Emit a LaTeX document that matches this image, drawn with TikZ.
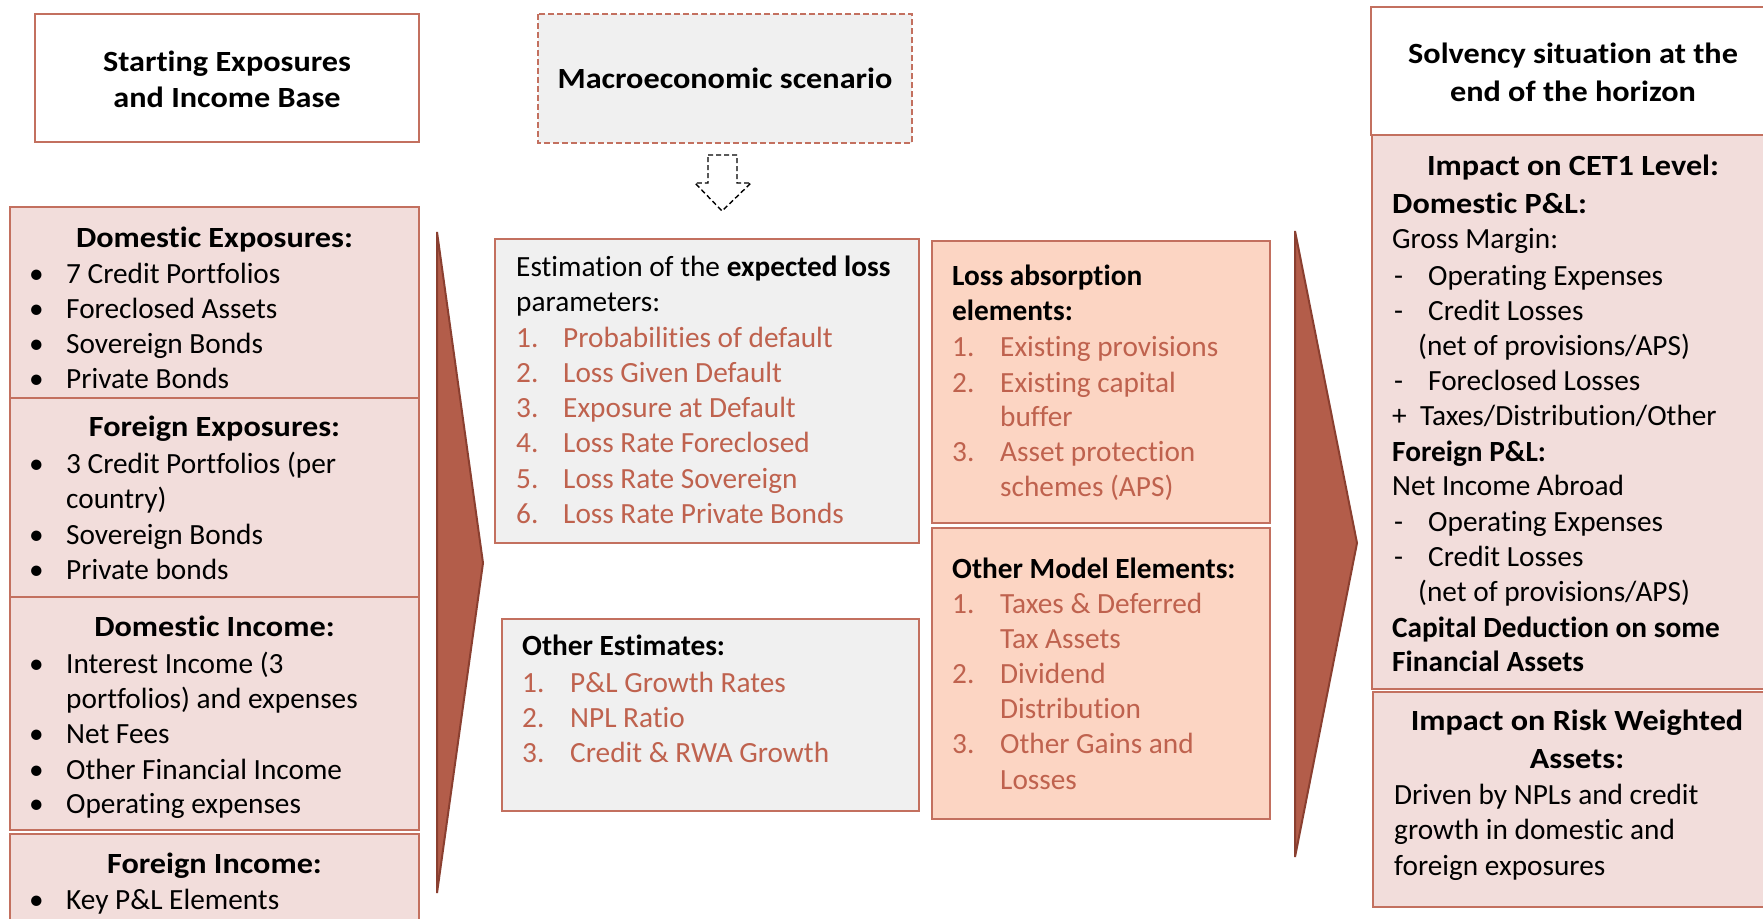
\documentclass[tikz,border=0pt]{standalone}
\usepackage{fontspec}
\setmainfont{Carlito}[Ligatures={TeX,NoCommon}]
\newfontfamily\widefont{Carlito}[FakeStretch=1.10,Ligatures={TeX,NoCommon}]
\definecolor{bord}{HTML}{C3705F}
\definecolor{pinkf}{HTML}{F2DDDB}
\definecolor{peach}{HTML}{FCD5C3}
\definecolor{grayf}{HTML}{F0F0F0}
\definecolor{itemc}{HTML}{BF624E}
\definecolor{arrf}{HTML}{B35D4A}
\definecolor{arrd}{HTML}{8A3F30}
\newcommand\fs{\fontsize{29.3}{35}\selectfont}
\tikzset{
 box/.style={draw=bord, line width=2pt},
 tx/.style={anchor=base west, inner sep=0pt, font=\fs},
 tb/.style={tx, font=\fs\bfseries},
 tw/.style={tx, font=\fs\widefont\bfseries},
 tc/.style={anchor=base, inner sep=0pt, font=\fs\widefont\bfseries},
 it/.style={tx, text=itemc},
 chev/.style={draw=arrd, fill=arrf, line width=2pt, line join=miter},
}
\newcommand\BI[3]{\node[tx] (#1b) at (29,#2) {•}; \node[tx] (#1t) at (66,#2) {#3};}
\newcommand\NI[6]{\node[it] (#1n) at (#2,#4) {#5}; \node[it] (#1t) at (#3,#4) {#6};}
\newcommand\DI[3]{\node[tx] (#1d) at (1394,#2) {-}; \node[tx] (#1t) at (1428,#2) {#3};}
\begin{document}
\begin{tikzpicture}[x=1pt,y=-1pt]
\path[use as bounding box] (0,0) rectangle (1763,918);
\clip (0,0) rectangle (1763,918);
\fill[white] (0,0) rectangle (1763,918);

% ---------- left column ----------
\draw[box] (35,14) rectangle (419,142);
\node[tc] (st1) at (227,71) {Starting Exposures};
\node[tc] (st2) at (227,107) {and Income Base};

\draw[box,fill=pinkf] (10,207) rectangle (419,398);
\draw[box,fill=pinkf] (10,398) rectangle (419,597);
\draw[box,fill=pinkf] (10,597) rectangle (419,830);
\draw[box,fill=pinkf] (10,834) rectangle (419,940);

\node[tc] (de) at (214.5,247) {Domestic Exposures:};
\BI{de1}{283}{7 Credit Portfolios}
\BI{de2}{318}{Foreclosed Assets}
\BI{de3}{353}{Sovereign Bonds}
\BI{de4}{388}{Private Bonds}

\node[tc] (fe) at (214.5,436) {Foreign Exposures:};
\BI{fe1}{473}{3 Credit Portfolios (per}
\node[tx] (fe1c) at (66,508) {country)};
\BI{fe2}{544}{Sovereign Bonds}
\BI{fe3}{579}{Private bonds}

\node[tc] (di) at (214.5,636) {Domestic Income:};
\BI{di1}{673}{Interest Income (3}
\node[tx] (di1c) at (66,708) {portfolios) and expenses};
\BI{di2}{743}{Net Fees}
\BI{di3}{779}{Other Financial Income}
\BI{di4}{813}{Operating expenses}

\node[tc] (fi) at (214.5,873) {Foreign Income:};
\BI{fi1}{909}{Key P\&L Elements}

% left chevron
\draw[chev] (437,232) -- (483,563) -- (437,893) -- cycle;

% ---------- middle ----------
\draw[draw=bord, line width=1.8pt, dash pattern=on 6pt off 3pt, fill=grayf] (538,14) rectangle (912,143);
\node[tc] (mac) at (725,88) {Macroeconomic scenario};

\draw[black, line width=1.4pt, dash pattern=on 5pt off 3pt, fill=white, line join=miter]
  (708,155) -- (737,155) -- (737,183) -- (751,183) -- (722,211) -- (695,183) -- (708,183) -- cycle;

\draw[box,fill=grayf] (495,239) rectangle (919,543);
\node[tx] (el1) at (516,276) {Estimation of the \textbf{expected loss}};
\node[tx] (el2) at (516,311) {parameters:};
\NI{e1}{516}{563}{347}{1.}{Probabilities of default}
\NI{e2}{516}{563}{382}{2.}{Loss Given Default}
\NI{e3}{516}{563}{417}{3.}{Exposure at Default}
\NI{e4}{516}{563}{452}{4.}{Loss Rate Foreclosed}
\NI{e5}{516}{563}{488}{5.}{Loss Rate Sovereign}
\NI{e6}{516}{563}{523}{6.}{Loss Rate Private Bonds}

\draw[box,fill=grayf] (502,619) rectangle (919,811);
\node[tb] (oe) at (522,655) {Other Estimates:};
\NI{o1}{522}{570}{692}{1.}{P\&L Growth Rates}
\NI{o2}{522}{570}{727}{2.}{NPL Ratio}
\NI{o3}{522}{570}{762}{3.}{Credit \& RWA Growth}

\draw[box,fill=peach] (932,241) rectangle (1270,523);
\node[tb] (la1) at (952,285) {Loss absorption};
\node[tb] (la2) at (952,320) {elements:};
\NI{l1}{952}{1000}{356}{1.}{Existing provisions}
\NI{l2}{952}{1000}{392}{2.}{Existing capital}
\node[it] (l2c) at (1000,426) {buffer};
\NI{l3}{952}{1000}{461}{3.}{Asset protection}
\node[it] (l3c) at (1000,496) {schemes (APS)};

\draw[box,fill=peach] (932,528) rectangle (1270,819);
\node[tb] (om) at (952,578) {Other Model Elements:};
\NI{m1}{952}{1000}{613}{1.}{Taxes \& Deferred}
\node[it] (m1c) at (1000,648) {Tax Assets};
\NI{m2}{952}{1000}{683}{2.}{Dividend}
\node[it] (m2c) at (1000,718) {Distribution};
\NI{m3}{952}{1000}{753}{3.}{Other Gains and}
\node[it] (m3c) at (1000,789) {Losses};

% right chevron
\draw[chev] (1295,231) -- (1357,543) -- (1295,857) -- cycle;

% ---------- right column ----------
\draw[box] (1371,7) rectangle (1790,135);
\node[tc] (so1) at (1573,63) {Solvency situation at the};
\node[tc] (so2) at (1573,101) {end of the horizon};

\draw[box,fill=pinkf] (1372,135) rectangle (1790,689);
\node[tc] (ce) at (1573,175) {Impact on CET1 Level:};
\node[tw] (dp) at (1392,213) {Domestic P\&L:};
\node[tx] (gm) at (1392,248) {Gross Margin:};
\DI{c1}{285}{Operating Expenses}
\DI{c2}{320}{Credit Losses}
\node[tx] (c2c) at (1418,355) {(net of provisions/APS)};
\DI{c3}{390}{Foreclosed Losses}
\node[tx] (c4d) at (1392,425) {+};
\node[tx] (c4t) at (1420,425) {Taxes/Distribution/Other};
\node[tb] (fp) at (1392,461) {Foreign P\&L:};
\node[tx] (nia) at (1392,495) {Net Income Abroad};
\DI{f1}{531}{Operating Expenses}
\DI{f2}{566}{Credit Losses}
\node[tx] (f2c) at (1418,601) {(net of provisions/APS)};
\node[tb] (cd1) at (1392,637) {Capital Deduction on some};
\node[tb] (cd2) at (1392,671) {Financial Assets};

\draw[box,fill=pinkf] (1373,692) rectangle (1790,907);
\node[tc] (rw1) at (1577,730) {Impact on Risk Weighted};
\node[tc] (rw2) at (1577,768) {Assets:};
\node[tx] (rw3) at (1394,804) {Driven by NPLs and credit};
\node[tx] (rw4) at (1394,839) {growth in domestic and};
\node[tx] (rw5) at (1394,875) {foreign exposures};
\end{tikzpicture}
\end{document}
